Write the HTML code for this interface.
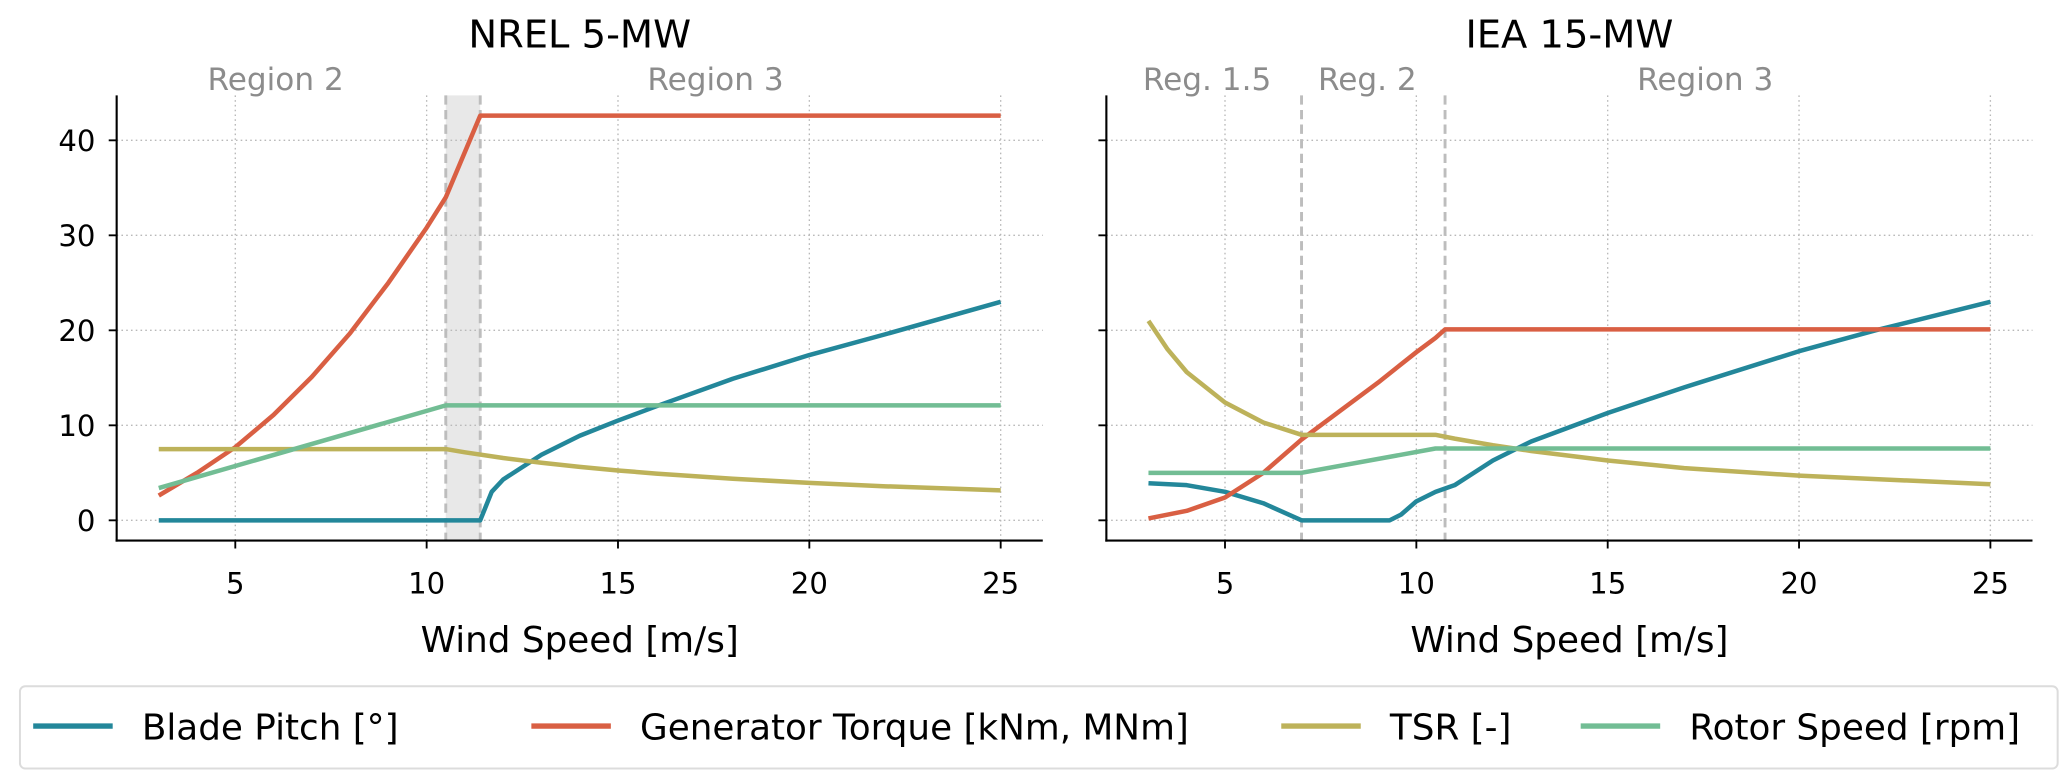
<!DOCTYPE html>
<html><head><meta charset="utf-8"><style>
html,body{margin:0;padding:0;background:#fff}
svg{display:block;font-family:"DejaVu Sans","Liberation Sans",sans-serif}
</style></head><body>
<svg id="chart" width="2067" height="776" viewBox="0 0 1560 585.7" xmlns="http://www.w3.org/2000/svg"></svg>
<script>
// ---- Data ----
const yTicks = [0, 10, 20, 30, 40];
const xTicks = [5, 10, 15, 20, 25];
const seriesNames = ['Blade Pitch [°]', 'Generator Torque [kNm, MNm]', 'TSR [-]', 'Rotor Speed [rpm]'];
const seriesColors = ['#23879a', '#d95f43', '#bdb25a', '#72bd94'];

const nrelPitchX = [3, 11.4, 11.7, 12, 13, 14, 15, 16, 18, 20, 22, 25];
const nrelPitchY = [0, 0, 3.0, 4.3, 6.9, 8.9, 10.5, 12.0, 14.9, 17.4, 19.6, 23.0];
const nrelTorqueX = [3, 4, 5, 6, 7, 8, 9, 10, 10.5, 11.4, 25];
const nrelTorqueY = [2.6, 5.0, 7.7, 11.1, 15.1, 19.7, 25.0, 30.8, 34.0, 42.6, 42.6];
const nrelTsrX = [3, 10.5, 11, 12, 13, 14, 15, 16, 18, 20, 22, 25];
const nrelTsrY = [7.5, 7.5, 7.16, 6.56, 6.06, 5.63, 5.25, 4.92, 4.38, 3.94, 3.58, 3.15];
const nrelRotorX = [3, 10.5, 25];
const nrelRotorY = [3.4, 12.1, 12.1];

const ieaPitchX = [3, 4, 5, 6, 7, 9.3, 9.6, 10, 10.5, 11, 11.5, 12, 13, 15, 17, 20, 22, 25];
const ieaPitchY = [3.9, 3.7, 3.0, 1.8, 0, 0, 0.6, 2.0, 3.0, 3.7, 5.0, 6.3, 8.3, 11.3, 14.0, 17.8, 20.0, 23.0];
const ieaTorqueX = [3, 4, 5, 6, 7, 8, 9, 10, 10.5, 10.75, 25];
const ieaTorqueY = [0.2, 1.0, 2.4, 5.0, 8.5, 11.5, 14.5, 17.7, 19.2, 20.1, 20.1];
const ieaTsrX = [3, 3.5, 4, 5, 6, 7, 10.5, 11, 12, 13, 15, 17, 20, 25];
const ieaTsrY = [21, 18, 15.6, 12.4, 10.3, 9.0, 9.0, 8.6, 7.9, 7.3, 6.3, 5.5, 4.7, 3.8];
const ieaRotorX = [3, 7, 10.5, 25];
const ieaRotorY = [5.0, 5.0, 7.56, 7.56];

const NS = 'http://www.w3.org/2000/svg';
const svg = document.getElementById('chart');
function mk(tag, attrs, parent) {
  const e = document.createElementNS(NS, tag);
  for (const k in attrs) e.setAttribute(k, attrs[k]);
  (parent || svg).appendChild(e);
  return e;
}
const yTop = 72, yBot = 408, yMin = -2.13, yMax = 44.73;
function sy(v) { return yBot - (v - yMin) / (yMax - yMin) * (yBot - yTop); }
function makeSx(x0, x1) { const d0 = 1.9, d1 = 26.1; return v => x0 + (v - d0) / (d1 - d0) * (x1 - x0); }

function panel(key, x0, x1, title, showYLabels, series, vlines, shade, regions) {
  const sx = makeSx(x0, x1);
  const g = mk('g', {});
  
  
  if (shade) {
    const r = mk('rect', {x: sx(shade[0]), y: yTop, width: sx(shade[1]) - sx(shade[0]), height: yBot - yTop, fill: '#e8e8e8'}, g);
    
    
  }
  xTicks.forEach(t => {
    const l = mk('line', {x1: sx(t), x2: sx(t), y1: yTop, y2: yBot, stroke: '#b8b8b8', 'stroke-width': 1, 'stroke-dasharray': '1.2,2.4'}, g);
    
    
  });
  yTicks.forEach(t => {
    const l = mk('line', {x1: x0, x2: x1, y1: sy(t), y2: sy(t), stroke: '#b8b8b8', 'stroke-width': 1, 'stroke-dasharray': '1.2,2.4'}, g);
    
    
  });
  vlines.forEach(v => {
    const l = mk('line', {x1: sx(v), x2: sx(v), y1: yTop, y2: yBot, stroke: '#bdbdbd', 'stroke-width': 2.2, 'stroke-dasharray': '7,4'}, g);
    
    
  });
  series.forEach((s, i) => {
    const pts = s[0].map((x, j) => sx(x).toFixed(2) + ',' + sy(s[1][j]).toFixed(2)).join(' ');
    const p = mk('polyline', {points: pts, fill: 'none', stroke: seriesColors[i], 'stroke-width': 3.4, 'stroke-linejoin': 'round'}, g);
    
    
  });
  mk('line', {x1: x0, x2: x0, y1: yTop, y2: yBot + 0.8, stroke: '#000', 'stroke-width': 1.6}, g);
  mk('line', {x1: x0 - 0.8, x2: x1, y1: yBot, y2: yBot, stroke: '#000', 'stroke-width': 1.6}, g);
  xTicks.forEach(t => {
    mk('line', {x1: sx(t), x2: sx(t), y1: yBot, y2: yBot + 6, stroke: '#000', 'stroke-width': 1.4}, g);
    const tx = mk('text', {x: sx(t), y: yBot + 40, 'text-anchor': 'middle', 'font-size': 22, fill: '#000'}, g);
    tx.textContent = t;
    
    
  });
  yTicks.forEach(t => {
    mk('line', {x1: x0 - 6, x2: x0, y1: sy(t), y2: sy(t), stroke: '#000', 'stroke-width': 1.4}, g);
    if (showYLabels) {
      const tx = mk('text', {x: x0 - 16, y: sy(t) + 8, 'text-anchor': 'end', 'font-size': 22, fill: '#000'}, g);
      tx.textContent = t;
      
      
    }
  });
  const tt = mk('text', {x: (x0 + x1) / 2, y: 36, 'text-anchor': 'middle', 'font-size': 29, fill: '#000'}, g);
  tt.textContent = title;
  
  
  const xl = mk('text', {x: (x0 + x1) / 2, y: 492, 'text-anchor': 'middle', 'font-size': 27, fill: '#000'}, g);
  xl.textContent = 'Wind Speed [m/s]';
  
  
  regions.forEach(r => {
    const t = mk('text', {x: r[1], y: 68, 'text-anchor': 'middle', 'font-size': 23.5, fill: '#8c8c8c'}, g);
    t.textContent = r[0];
    
    
  });
}

panel('nrel', 88, 787, 'NREL 5-MW', true,
  [[nrelPitchX, nrelPitchY], [nrelTorqueX, nrelTorqueY], [nrelTsrX, nrelTsrY], [nrelRotorX, nrelRotorY]],
  [10.5, 11.4], [10.5, 11.4], [['Region 2', 208], ['Region 3', 540]]);
panel('iea', 835, 1534, 'IEA 15-MW', false,
  [[ieaPitchX, ieaPitchY], [ieaTorqueX, ieaTorqueY], [ieaTsrX, ieaTsrY], [ieaRotorX, ieaRotorY]],
  [7, 10.75], null, [['Reg. 1.5', 911], ['Reg. 2', 1032], ['Region 3', 1287]]);

const lg = mk('g', {});


mk('rect', {x: 15, y: 518, width: 1538, height: 62, rx: 4, fill: '#fff', stroke: '#dcdcdc', 'stroke-width': 1.5}, lg);
const legLineX = [25, 401, 967, 1193];
seriesNames.forEach((n, i) => {
  const e = mk('g', {}, lg);
  
  
  mk('line', {x1: legLineX[i], x2: legLineX[i] + 60, y1: 548, y2: 548, stroke: seriesColors[i], 'stroke-width': 4}, e);
  const t = mk('text', {x: legLineX[i] + 82, y: 558, 'font-size': 27, fill: '#000'}, e);
  t.textContent = n;
});
</script>
</body></html>
